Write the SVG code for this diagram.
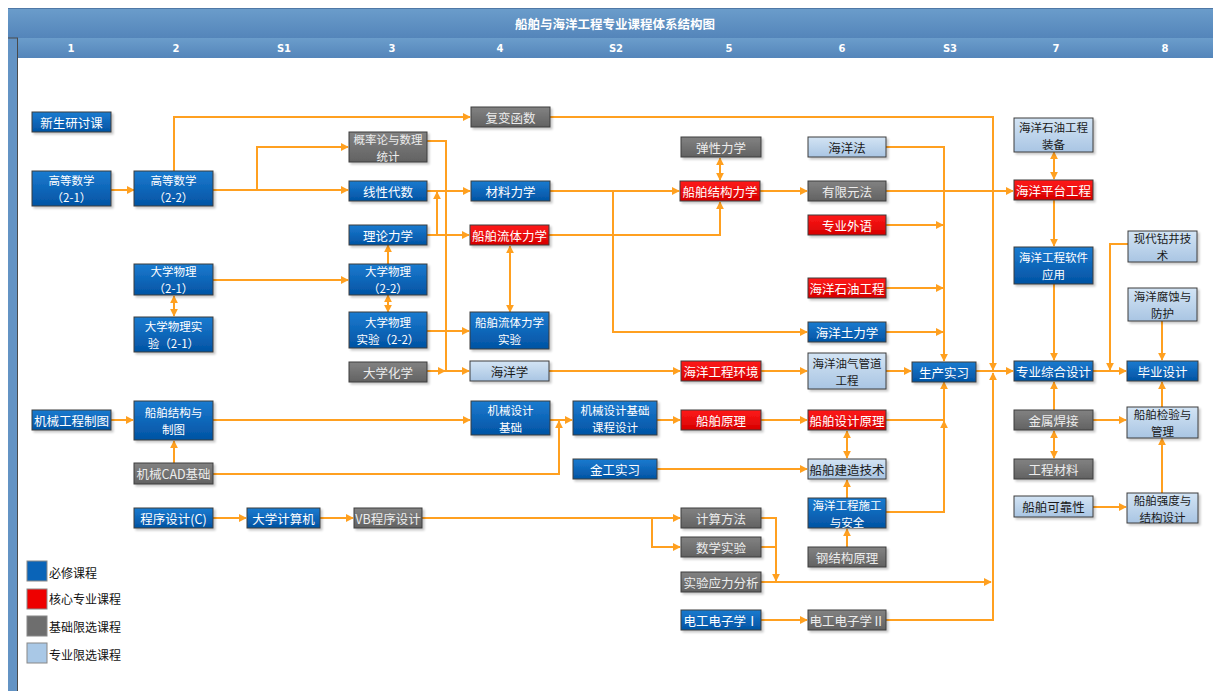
<svg xmlns="http://www.w3.org/2000/svg" width="1213" height="691" viewBox="0 0 1213 691">
<defs>
<linearGradient id="gBar" x1="0" y1="0" x2="0" y2="1"><stop offset="0" stop-color="#6b9dcb"/><stop offset="1" stop-color="#5485ba"/></linearGradient>
<linearGradient id="gB" x1="0" y1="0" x2="0" y2="1"><stop offset="0" stop-color="#1b7bd0"/><stop offset="1" stop-color="#0253a3"/></linearGradient>
<linearGradient id="gR" x1="0" y1="0" x2="0" y2="1"><stop offset="0" stop-color="#ff1a1a"/><stop offset="1" stop-color="#d60000"/></linearGradient>
<linearGradient id="gG" x1="0" y1="0" x2="0" y2="1"><stop offset="0" stop-color="#828282"/><stop offset="1" stop-color="#626262"/></linearGradient>
<linearGradient id="gL" x1="0" y1="0" x2="0" y2="1"><stop offset="0" stop-color="#d3e4f4"/><stop offset="1" stop-color="#a9c5e3"/></linearGradient>
<filter id="sh" x="-10%" y="-10%" width="130%" height="150%"><feDropShadow dx="2" dy="2" stdDeviation="1" flood-color="#000" flood-opacity="0.22"/></filter>
<marker id="ae" viewBox="0 0 10 10" refX="9" refY="5" markerWidth="8" markerHeight="8" markerUnits="userSpaceOnUse" orient="auto"><path d="M0,0 L10,5 L0,10 z" fill="#ffa020"/></marker>
<marker id="as" viewBox="0 0 10 10" refX="1" refY="5" markerWidth="8" markerHeight="8" markerUnits="userSpaceOnUse" orient="auto"><path d="M10,0 L0,5 L10,10 z" fill="#ffa020"/></marker>
</defs>
<style>
text{font-family:"Noto Sans CJK SC","Noto Sans",sans-serif;font-size:12.5px;text-anchor:middle;dominant-baseline:central}
text.t2{font-size:11.5px}
.b{fill:url(#gB)}.r{fill:url(#gR)}.g{fill:url(#gG)}.l{fill:url(#gL)}
.nd rect{stroke:#3c3c3c;stroke-width:1;filter:url(#sh)}
.w{fill:#ffffff}.gw{fill:#ececec}.d{fill:#1a1a1a}
.hd{fill:#ffffff;font-weight:bold;font-size:10px;font-family:"DejaVu Sans","Noto Sans",sans-serif}
.tt{fill:#ffffff;font-weight:bold;font-size:12.5px}
#connectors path{fill:none;stroke:#ffa020;stroke-width:2}
.lg{text-anchor:start;fill:#111;font-size:12px}
.ls{stroke:#888;stroke-width:1}
</style>
<rect width="1213" height="691" fill="#ffffff"/>
<g id="frame">
<rect x="8" y="8" width="1205" height="30" fill="url(#gBar)"/>
<line x1="8" y1="8.5" x2="1213" y2="8.5" stroke="#4f78a6" stroke-width="1"/>
<rect x="8" y="38" width="1205" height="20" fill="url(#gBar)"/>
<rect x="8" y="38" width="10" height="653" fill="#6393c4"/>
<line x1="17.5" y1="38" x2="17.5" y2="691" stroke="#4a4a4a" stroke-width="1"/>
<line x1="8" y1="38" x2="18" y2="38" stroke="#4a4a4a" stroke-width="1"/>
<text class="tt" x="615" y="23">船舶与海洋工程专业课程体系结构图</text>
<text class="hd" x="71" y="48">1</text>
<text class="hd" x="176" y="48">2</text>
<text class="hd" x="284" y="48">S1</text>
<text class="hd" x="392" y="48">3</text>
<text class="hd" x="500" y="48">4</text>
<text class="hd" x="616" y="48">S2</text>
<text class="hd" x="729" y="48">5</text>
<text class="hd" x="842" y="48">6</text>
<text class="hd" x="950" y="48">S3</text>
<text class="hd" x="1056" y="48">7</text>
<text class="hd" x="1165" y="48">8</text>
</g>
<g id="connectors">
<path d="M111,190 H134" marker-end="url(#ae)"/>
<path d="M213,190 H348" marker-end="url(#ae)"/>
<path d="M257,190 V147 H348" marker-end="url(#ae)"/>
<path d="M174,171 V117 H470" marker-end="url(#ae)"/>
<path d="M550,117 H993 V370" marker-end="url(#ae)"/>
<path d="M213,280 H348" marker-end="url(#ae)"/>
<path d="M174,296 V316" marker-start="url(#as)" marker-end="url(#ae)"/>
<path d="M388,264 V245" marker-end="url(#ae)"/>
<path d="M388,295 V312" marker-start="url(#as)" marker-end="url(#ae)"/>
<path d="M427,191 H470" marker-end="url(#ae)"/>
<path d="M427,235 H469" marker-end="url(#ae)"/>
<path d="M437,235 V192" marker-end="url(#ae)"/>
<path d="M427,141 H446 V371 H469" marker-end="url(#ae)"/>
<path d="M427,371 H445" marker-end="url(#ae)"/>
<path d="M427,331 H469" marker-end="url(#ae)"/>
<path d="M510,246 V312" marker-start="url(#as)" marker-end="url(#ae)"/>
<path d="M550,191 H679" marker-end="url(#ae)"/>
<path d="M613,191 V332 H807" marker-end="url(#ae)"/>
<path d="M549,235 H720 V202" marker-end="url(#ae)"/>
<path d="M720,158 V180" marker-start="url(#as)" marker-end="url(#ae)"/>
<path d="M760,191 H807" marker-end="url(#ae)"/>
<path d="M886,191 H1013" marker-end="url(#ae)"/>
<path d="M886,147 H944 V361" marker-end="url(#ae)"/>
<path d="M886,225 H943" marker-end="url(#ae)"/>
<path d="M886,288 H943" marker-end="url(#ae)"/>
<path d="M886,332 H943" marker-end="url(#ae)"/>
<path d="M549,371 H680" marker-end="url(#ae)"/>
<path d="M761,371 H807" marker-end="url(#ae)"/>
<path d="M886,371 H911" marker-end="url(#ae)"/>
<path d="M976,371 H1013" marker-end="url(#ae)"/>
<path d="M1093,371 H1126" marker-end="url(#ae)"/>
<path d="M1128,244 H1110 V370" marker-end="url(#ae)"/>
<path d="M1162,321 V360" marker-end="url(#ae)"/>
<path d="M1054,152 V179" marker-start="url(#as)" marker-end="url(#ae)"/>
<path d="M1054,200 V246" marker-end="url(#ae)"/>
<path d="M1054,284 V360" marker-end="url(#ae)"/>
<path d="M1054,410 V382" marker-end="url(#ae)"/>
<path d="M1054,431 V458" marker-start="url(#as)" marker-end="url(#ae)"/>
<path d="M1093,420 H1126" marker-end="url(#ae)"/>
<path d="M1093,507 H1126" marker-end="url(#ae)"/>
<path d="M1162,493 V438" marker-end="url(#ae)"/>
<path d="M1162,407 V382" marker-end="url(#ae)"/>
<path d="M111,420 H133" marker-end="url(#ae)"/>
<path d="M213,420 H470" marker-end="url(#ae)"/>
<path d="M174,463 V441" marker-end="url(#ae)"/>
<path d="M213,474 H559 V421" marker-end="url(#ae)"/>
<path d="M550,420 H572" marker-end="url(#ae)"/>
<path d="M657,420 H680" marker-end="url(#ae)"/>
<path d="M761,420 H807" marker-end="url(#ae)"/>
<path d="M886,420 H944 V382" marker-end="url(#ae)"/>
<path d="M847,431 V458" marker-start="url(#as)" marker-end="url(#ae)"/>
<path d="M657,469 H807" marker-end="url(#ae)"/>
<path d="M847,498 V480" marker-end="url(#ae)"/>
<path d="M886,512 H944 V421" marker-end="url(#ae)"/>
<path d="M847,547 V529" marker-end="url(#ae)"/>
<path d="M213,518 H246" marker-end="url(#ae)"/>
<path d="M320,518 H353" marker-end="url(#ae)"/>
<path d="M422,518 H680" marker-end="url(#ae)"/>
<path d="M652,518 V547 H680" marker-end="url(#ae)"/>
<path d="M761,518 H776 V581" marker-end="url(#ae)"/>
<path d="M761,547 H776"/>
<path d="M761,582 H991" marker-end="url(#ae)"/>
<path d="M761,620 H807" marker-end="url(#ae)"/>
<path d="M886,620 H993 V373" marker-end="url(#ae)"/>
</g>
<g id="n01" class="nd"><rect class="b" x="32" y="112" width="79" height="20"/><text class="w" x="71.5" y="122">新生研讨课</text></g>
<g id="n02" class="nd"><rect class="b" x="32" y="171" width="79" height="35"/><text class="w t2"><tspan x="71.5" y="180">高等数学</tspan><tspan x="71.5" y="197">（2-1）</tspan></text></g>
<g id="n03" class="nd"><rect class="b" x="134" y="171" width="79" height="35"/><text class="w t2"><tspan x="173.5" y="180">高等数学</tspan><tspan x="173.5" y="197">（2-2）</tspan></text></g>
<g id="n04" class="nd"><rect class="b" x="134" y="264" width="79" height="31"/><text class="w t2"><tspan x="173.5" y="271">大学物理</tspan><tspan x="173.5" y="288">（2-1）</tspan></text></g>
<g id="n05" class="nd"><rect class="b" x="134" y="317" width="79" height="35"/><text class="w t2"><tspan x="173.5" y="326">大学物理实</tspan><tspan x="173.5" y="343">验（2-1）</tspan></text></g>
<g id="n06" class="nd"><rect class="b" x="32" y="410" width="79" height="20"/><text class="w" x="71.5" y="420">机械工程制图</text></g>
<g id="n07" class="nd"><rect class="b" x="134" y="401" width="79" height="39"/><text class="w t2"><tspan x="173.5" y="412">船舶结构与</tspan><tspan x="173.5" y="429">制图</tspan></text></g>
<g id="n08" class="nd"><rect class="g" x="134" y="463" width="79" height="21"/><text class="gw" x="173.5" y="473.5">机械CAD基础</text></g>
<g id="n09" class="nd"><rect class="b" x="134" y="508" width="79" height="20"/><text class="w" x="173.5" y="518">程序设计(C)</text></g>
<g id="n10" class="nd"><rect class="b" x="247" y="508" width="73" height="20"/><text class="w" x="283.5" y="518">大学计算机</text></g>
<g id="n11" class="nd"><rect class="g" x="354" y="508" width="68" height="20"/><text class="gw" x="388" y="518">VB程序设计</text></g>
<g id="n12" class="nd"><rect class="g" x="349" y="132" width="78" height="30"/><text class="gw t2"><tspan x="388" y="138.5">概率论与数理</tspan><tspan x="388" y="155.5">统计</tspan></text></g>
<g id="n13" class="nd"><rect class="b" x="349" y="181" width="78" height="20"/><text class="w" x="388" y="191">线性代数</text></g>
<g id="n14" class="nd"><rect class="b" x="349" y="225" width="78" height="20"/><text class="w" x="388" y="235">理论力学</text></g>
<g id="n15" class="nd"><rect class="b" x="349" y="264" width="78" height="31"/><text class="w t2"><tspan x="388" y="271">大学物理</tspan><tspan x="388" y="288">（2-2）</tspan></text></g>
<g id="n16" class="nd"><rect class="b" x="349" y="312" width="78" height="36"/><text class="w t2"><tspan x="388" y="321.5">大学物理</tspan><tspan x="388" y="338.5">实验（2-2）</tspan></text></g>
<g id="n17" class="nd"><rect class="g" x="349" y="362" width="78" height="20"/><text class="gw" x="388" y="372">大学化学</text></g>
<g id="n18" class="nd"><rect class="g" x="471" y="107" width="79" height="20"/><text class="gw" x="510.5" y="117">复变函数</text></g>
<g id="n19" class="nd"><rect class="b" x="471" y="181" width="79" height="20"/><text class="w" x="510.5" y="191">材料力学</text></g>
<g id="n20" class="nd"><rect class="r" x="470" y="225" width="79" height="20"/><text class="w" x="509.5" y="235">船舶流体力学</text></g>
<g id="n21" class="nd"><rect class="b" x="470" y="312" width="79" height="37"/><text class="w t2"><tspan x="509.5" y="322">船舶流体力学</tspan><tspan x="509.5" y="339">实验</tspan></text></g>
<g id="n22" class="nd"><rect class="l" x="470" y="361" width="79" height="20"/><text class="d" x="509.5" y="371">海洋学</text></g>
<g id="n23" class="nd"><rect class="b" x="471" y="401" width="79" height="34"/><text class="w t2"><tspan x="510.5" y="409.5">机械设计</tspan><tspan x="510.5" y="426.5">基础</tspan></text></g>
<g id="n24" class="nd"><rect class="b" x="573" y="401" width="84" height="34"/><text class="w t2"><tspan x="615" y="409.5">机械设计基础</tspan><tspan x="615" y="426.5">课程设计</tspan></text></g>
<g id="n25" class="nd"><rect class="b" x="573" y="459" width="84" height="20"/><text class="w" x="615" y="469">金工实习</text></g>
<g id="n26" class="nd"><rect class="g" x="681" y="137" width="80" height="20"/><text class="gw" x="721" y="147">弹性力学</text></g>
<g id="n27" class="nd"><rect class="r" x="680" y="181" width="80" height="20"/><text class="w" x="720" y="191">船舶结构力学</text></g>
<g id="n28" class="nd"><rect class="r" x="681" y="361" width="80" height="20"/><text class="w" x="721" y="371">海洋工程环境</text></g>
<g id="n29" class="nd"><rect class="r" x="681" y="410" width="80" height="20"/><text class="w" x="721" y="420">船舶原理</text></g>
<g id="n30" class="nd"><rect class="g" x="681" y="508" width="80" height="20"/><text class="gw" x="721" y="518">计算方法</text></g>
<g id="n31" class="nd"><rect class="g" x="681" y="537" width="80" height="20"/><text class="gw" x="721" y="547">数学实验</text></g>
<g id="n32" class="nd"><rect class="g" x="681" y="572" width="80" height="20"/><text class="gw" x="721" y="582">实验应力分析</text></g>
<g id="n33" class="nd"><rect class="b" x="681" y="610" width="80" height="20"/><text class="w" x="721" y="620">电工电子学Ⅰ</text></g>
<g id="n34" class="nd"><rect class="l" x="808" y="137" width="78" height="20"/><text class="d" x="847" y="147">海洋法</text></g>
<g id="n35" class="nd"><rect class="g" x="808" y="181" width="78" height="20"/><text class="gw" x="847" y="191">有限元法</text></g>
<g id="n36" class="nd"><rect class="r" x="808" y="215" width="78" height="20"/><text class="w" x="847" y="225">专业外语</text></g>
<g id="n37" class="nd"><rect class="r" x="808" y="278" width="78" height="20"/><text class="w" x="847" y="288">海洋石油工程</text></g>
<g id="n38" class="nd"><rect class="b" x="808" y="322" width="78" height="20"/><text class="w" x="847" y="332">海洋土力学</text></g>
<g id="n39" class="nd"><rect class="l" x="808" y="353" width="78" height="36"/><text class="d t2"><tspan x="847" y="362.5">海洋油气管道</tspan><tspan x="847" y="379.5">工程</tspan></text></g>
<g id="n40" class="nd"><rect class="r" x="808" y="410" width="78" height="20"/><text class="w" x="847" y="420">船舶设计原理</text></g>
<g id="n41" class="nd"><rect class="l" x="808" y="459" width="78" height="20"/><text class="d" x="847" y="469">船舶建造技术</text></g>
<g id="n42" class="nd"><rect class="b" x="808" y="498" width="78" height="30"/><text class="w t2"><tspan x="847" y="504.5">海洋工程施工</tspan><tspan x="847" y="521.5">与安全</tspan></text></g>
<g id="n43" class="nd"><rect class="g" x="808" y="547" width="78" height="20"/><text class="gw" x="847" y="557">钢结构原理</text></g>
<g id="n44" class="nd"><rect class="g" x="808" y="610" width="78" height="20"/><text class="gw" x="847" y="620">电工电子学Ⅱ</text></g>
<g id="n45" class="nd"><rect class="b" x="912" y="362" width="64" height="20"/><text class="w" x="944" y="372">生产实习</text></g>
<g id="n46" class="nd"><rect class="l" x="1014" y="118" width="79" height="34"/><text class="d t2"><tspan x="1053.5" y="126.5">海洋石油工程</tspan><tspan x="1053.5" y="143.5">装备</tspan></text></g>
<g id="n47" class="nd"><rect class="r" x="1014" y="180" width="79" height="20"/><text class="w" x="1053.5" y="190">海洋平台工程</text></g>
<g id="n48" class="nd"><rect class="b" x="1014" y="247" width="79" height="37"/><text class="w t2"><tspan x="1053.5" y="257">海洋工程软件</tspan><tspan x="1053.5" y="274">应用</tspan></text></g>
<g id="n49" class="nd"><rect class="b" x="1014" y="361" width="79" height="20"/><text class="w" x="1053.5" y="371">专业综合设计</text></g>
<g id="n50" class="nd"><rect class="g" x="1014" y="410" width="79" height="20"/><text class="gw" x="1053.5" y="420">金属焊接</text></g>
<g id="n51" class="nd"><rect class="g" x="1014" y="459" width="79" height="20"/><text class="gw" x="1053.5" y="469">工程材料</text></g>
<g id="n52" class="nd"><rect class="l" x="1014" y="496" width="79" height="21"/><text class="d" x="1053.5" y="506.5">船舶可靠性</text></g>
<g id="n53" class="nd"><rect class="l" x="1128" y="231" width="69" height="31"/><text class="d t2"><tspan x="1162.5" y="238">现代钻井技</tspan><tspan x="1162.5" y="255">术</tspan></text></g>
<g id="n54" class="nd"><rect class="l" x="1128" y="288" width="69" height="33"/><text class="d t2"><tspan x="1162.5" y="296">海洋腐蚀与</tspan><tspan x="1162.5" y="313">防护</tspan></text></g>
<g id="n55" class="nd"><rect class="b" x="1127" y="361" width="71" height="20"/><text class="w" x="1162.5" y="371">毕业设计</text></g>
<g id="n56" class="nd"><rect class="l" x="1127" y="407" width="71" height="31"/><text class="d t2"><tspan x="1162.5" y="414">船舶检验与</tspan><tspan x="1162.5" y="431">管理</tspan></text></g>
<g id="n57" class="nd"><rect class="l" x="1127" y="493" width="71" height="30"/><text class="d t2"><tspan x="1162.5" y="499.5">船舶强度与</tspan><tspan x="1162.5" y="516.5">结构设计</tspan></text></g>
<g id="legend">
<rect class="ls" x="27" y="561" width="20" height="20" fill="#0a64b8"/>
<rect class="ls" x="27" y="589" width="20" height="20" fill="#ee0000"/>
<rect class="ls" x="27" y="616" width="20" height="20" fill="#6e6e6e"/>
<rect class="ls" x="27" y="643" width="20" height="20" fill="#a9c8e6"/>
<text class="lg" x="49" y="572">必修课程</text>
<text class="lg" x="49" y="598">核心专业课程</text>
<text class="lg" x="49" y="626">基础限选课程</text>
<text class="lg" x="49" y="654">专业限选课程</text>
</g>
</svg>
